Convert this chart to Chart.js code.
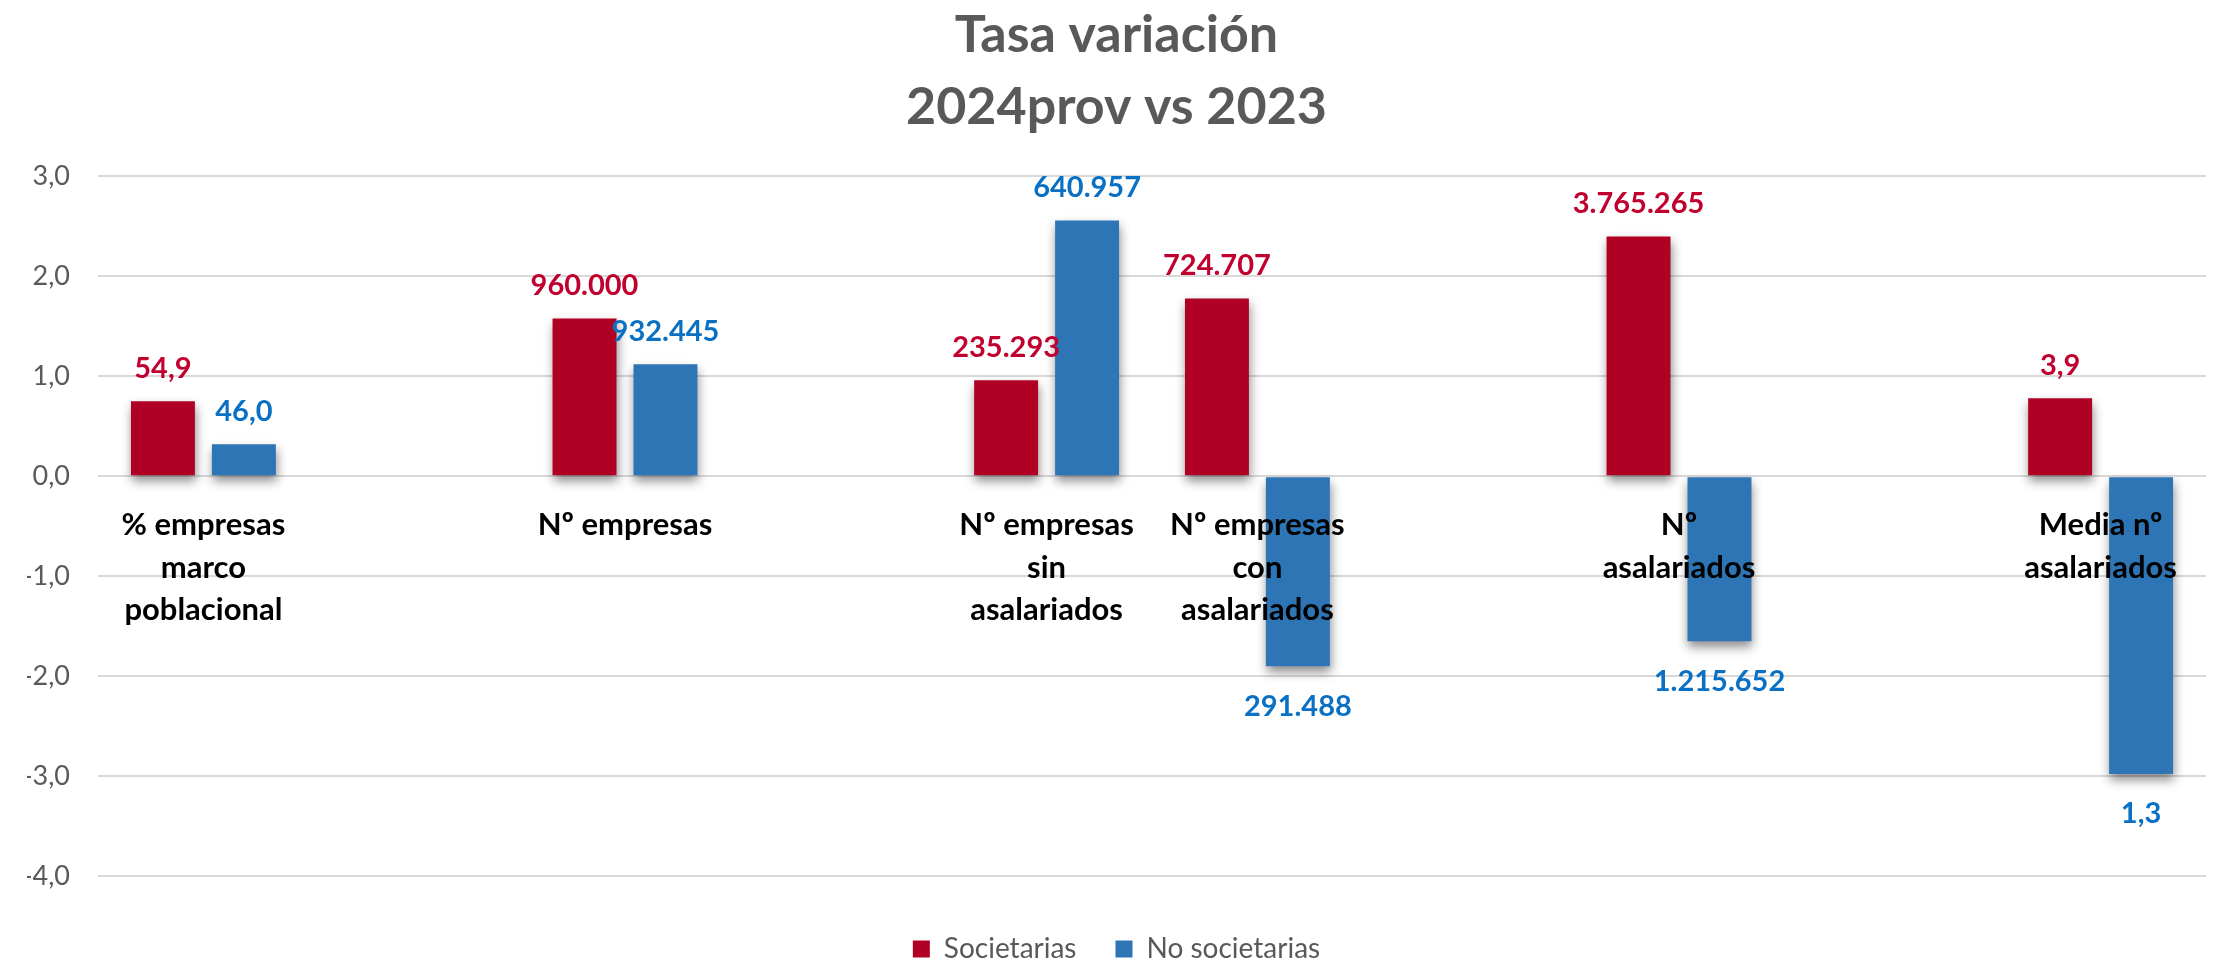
<!DOCTYPE html>
<html>
<head>
<meta charset="utf-8">
<title>Tasa variación 2024prov vs 2023</title>
<script src="https://cdn.jsdelivr.net/npm/chart.js@4.4.1/dist/chart.umd.min.js"></script>
<style>
  html, body { margin: 0; padding: 0; background: #fff; }
  #wrap { width: 2213px; height: 967px; position: relative; }
</style>
</head>
<body>
<div id="wrap"><canvas id="tasaChart"></canvas></div>
<script>
// Categories (blank slots are the empty columns of the original sheet)
const categories = [
  ["% empresas", "marco", "poblacional"],
  "",
  ["Nº empresas"],
  "",
  ["Nº empresas", "sin", "asalariados"],
  ["Nº empresas", "con", "asalariados"],
  "",
  ["Nº", "asalariados"],
  "",
  ["Media nº", "asalariados"]
];

// Tasa de variación (%)
const societarias   = [0.75, null, 1.58, null, 0.96, 1.78, null, 2.40, null, 0.78];
const noSocietarias = [0.32, null, 1.12, null, 2.56, -1.90, null, -1.65, null, -2.98];

// Absolute values shown as data labels
const societariasLabels   = ["54,9", null, "960.000", null, "235.293", "724.707", null, "3.765.265", null, "3,9"];
const noSocietariasLabels = ["46,0", null, "932.445", null, "640.957", "291.488", null, "1.215.652", null, "1,3"];

const yTicks = [-4, -3, -2, -1, 0, 1, 2, 3];

const FONT = "Lato, 'Open Sans', sans-serif";
const RED = "#B00024";
const BLUE = "#2E75B6";

// soft drop shadow under the bars (Excel effect)
const barShadow = {
  id: "barShadow",
  beforeDatasetDraw(chart) {
    const c = chart.ctx;
    c.save();
    c.shadowColor = "rgba(0,0,0,0.45)";
    c.shadowBlur = 10;
    c.shadowOffsetX = 1;
    c.shadowOffsetY = 6;
  },
  afterDatasetDraw(chart) {
    chart.ctx.restore();
  }
};

// value labels above / below the bars
const valueLabels = {
  id: "valueLabels",
  afterDatasetsDraw(chart) {
    const ctx = chart.ctx;
    ctx.save();
    ctx.font = "bold 29px " + FONT;
    ctx.textAlign = "center";
    ctx.textBaseline = "middle";
    chart.data.datasets.forEach((ds, i) => {
      const meta = chart.getDatasetMeta(i);
      ctx.fillStyle = ds.labelColor;
      meta.data.forEach((bar, j) => {
        const v = ds.data[j];
        const txt = ds.valueText[j];
        if (v === null || !txt) return;
        const y = v >= 0 ? bar.y - 33 : bar.y + 40;
        ctx.fillText(txt, bar.x, y);
      });
    });
    ctx.restore();
  }
};

const ctx = document.getElementById("tasaChart").getContext("2d");
const chart = new Chart(ctx, {
  type: "bar",
  data: {
    labels: categories,
    datasets: [
      {
        label: "Societarias",
        data: societarias,
        backgroundColor: RED,
        labelColor: "#C0002F",
        valueText: societariasLabels
      },
      {
        label: "No societarias",
        data: noSocietarias,
        backgroundColor: BLUE,
        labelColor: "#0A70C4",
        valueText: noSocietariasLabels
      }
    ]
  },
  options: {
    responsive: true,
    maintainAspectRatio: false,
    animation: false,
    categoryPercentage: 0.768,
    barPercentage: 0.79,
    layout: { padding: { left: 27, right: 7, top: 0, bottom: -6 } },
    plugins: {
      title: {
        display: true,
        text: ["Tasa variación", "2024prov vs 2023"],
        color: "#595959",
        font: { family: FONT, size: 52, weight: "bold", lineHeight: 1.37 },
        padding: { top: 0, bottom: 34 }
      },
      legend: {
        position: "bottom",
        labels: {
          color: "#595959",
          font: { family: FONT, size: 28 },
          boxWidth: 17,
          boxHeight: 17,
          padding: 39
        }
      },
      tooltip: { enabled: false }
    },
    scales: {
      x: {
        position: { y: 0 },
        grid: { display: false },
        border: { display: false },
        ticks: {
          z: 1,
          color: "#000",
          font: { family: FONT, size: 31, weight: "bold", lineHeight: 1.36 },
          padding: 20,
          autoSkip: false,
          maxRotation: 0
        }
      },
      y: {
        min: -4.2,
        max: 3,
        afterBuildTicks: s => { s.ticks = yTicks.map(v => ({ value: v })); },
        afterFit: s => { s.width = 71; },
        grid: { color: "#D9D9D9", lineWidth: 2, drawTicks: false },
        border: { display: false },
        ticks: {
          color: "#595959",
          font: { family: FONT, size: 27 },
          padding: 28,
          callback: v => v.toFixed(1).replace(".", ",")
        }
      }
    }
  },
  plugins: [barShadow, valueLabels]
});
</script>
</body>
</html>
